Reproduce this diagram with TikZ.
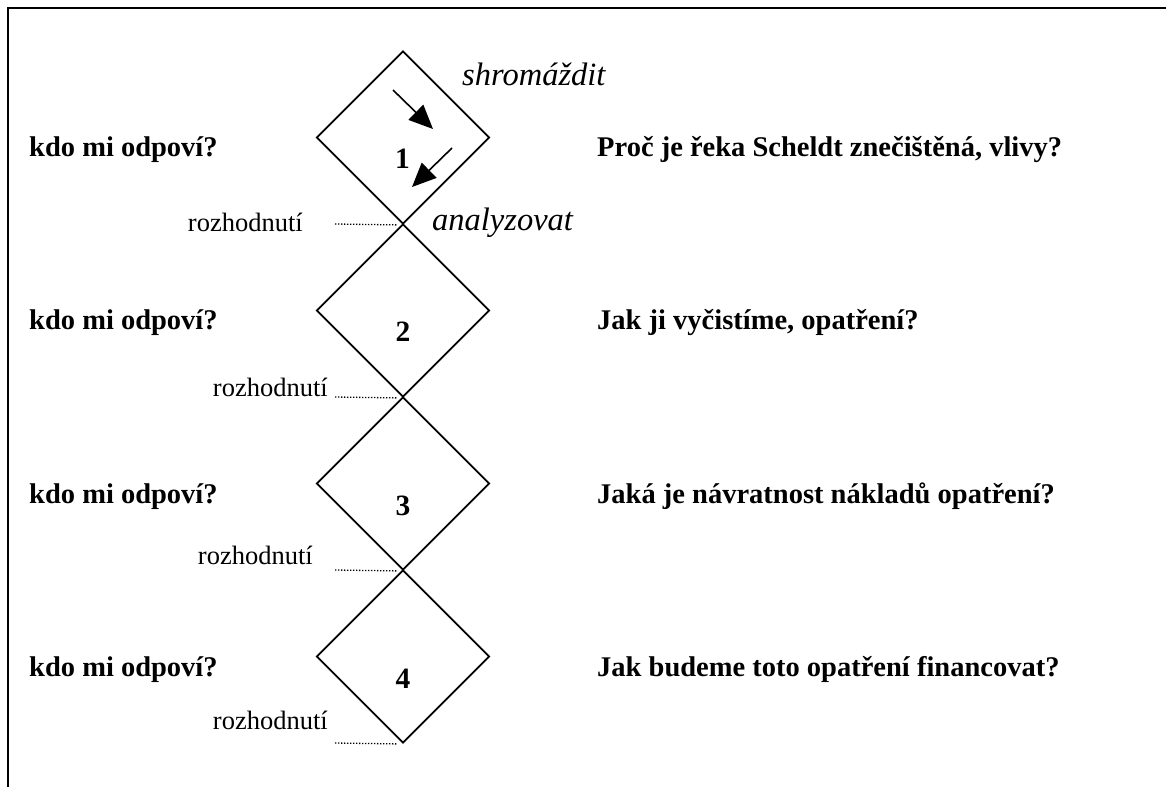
\documentclass[tikz,border=0pt]{standalone}
\usepackage{fontspec}
\setmainfont{Liberation Serif}
\usetikzlibrary{shapes.geometric,arrows.meta}
\begin{document}
\begin{tikzpicture}[x=1pt,y=-1pt,
  dia/.style={draw,shape=diamond,aspect=1,minimum width=173pt,minimum height=173pt,inner sep=0pt,line width=1.8pt},
  boldtxt/.style={inner sep=0pt,anchor=base west,font=\fontsize{28.5}{30}\selectfont\bfseries},
  numtxt/.style={inner sep=0pt,anchor=base,font=\fontsize{29.5}{30}\selectfont\bfseries},
  rozh/.style={inner sep=0pt,anchor=base east,font=\fontsize{26.5}{28}\selectfont},
  ital/.style={inner sep=0pt,anchor=base west,font=\fontsize{32.5}{34}\selectfont\itshape},
  dotline/.style={line width=1.3pt,dash pattern=on 1.3pt off 1.7pt},
  bigarrow/.style={line width=1.6pt,-{Triangle[length=24pt,width=21pt]}}]
\useasboundingbox (0,0) rectangle (1166,787);
% frame
\coordinate (ftl) at (8,8);
\coordinate (ftr) at (1166,8);
\coordinate (fbl) at (8,787);
\draw[line width=2pt] (fbl) -- (ftl) -- (ftr);
% diamonds
\node[dia] (d1) at (403,137.5) {};
\node[dia] (d2) at (403,310.5) {};
\node[dia] (d3) at (403,483.5) {};
\node[dia] (d4) at (403,656.5) {};
% numbers
\node[numtxt] (n1) at (402.5,168) {1};
\node[numtxt] (n2) at (403,341.5) {2};
\node[numtxt] (n3) at (403,515) {3};
\node[numtxt] (n4) at (403,688.5) {4};
% arrows in diamond 1
\coordinate (a1s) at (393,90);
\coordinate (a1e) at (433,129);
\coordinate (a2s) at (452,148);
\coordinate (a2e) at (412,187);
\draw[bigarrow] (a1s) -- (a1e);
\draw[bigarrow] (a2s) -- (a2e);
% italic labels
\node[ital] (sh) at (462,85) {shromáždit};
\node[ital] (an) at (432,230) {analyzovat};
% left questions
\node[boldtxt] (k1) at (29,156) {kdo mi odpoví?};
\node[boldtxt] (k2) at (29,329.5) {kdo mi odpoví?};
\node[boldtxt] (k3) at (29,503) {kdo mi odpoví?};
\node[boldtxt] (k4) at (29,676.5) {kdo mi odpoví?};
% right questions
\node[boldtxt] (q1) at (597,156) {Proč je řeka Scheldt znečištěná, vlivy?};
\node[boldtxt] (q2) at (597,329.5) {Jak ji vyčistíme, opatření?};
\node[boldtxt] (q3) at (597,503) {Jaká je návratnost nákladů opatření?};
\node[boldtxt] (q4) at (597,676.5) {Jak budeme toto opatření financovat?};
% rozhodnuti labels
\node[rozh] (r1) at (303,231) {rozhodnutí};
\node[rozh] (r2) at (328,396) {rozhodnutí};
\node[rozh] (r3) at (313,564) {rozhodnutí};
\node[rozh] (r4) at (328,729) {rozhodnutí};
% dotted lines
\coordinate (l1) at (335,224);
\coordinate (l2) at (335,397);
\coordinate (l3) at (335,570);
\coordinate (l4) at (335,743);
\draw[dotline] (l1) -- ([xshift=-6pt]d1.south);
\draw[dotline] (l2) -- ([xshift=-6pt]d2.south);
\draw[dotline] (l3) -- ([xshift=-6pt]d3.south);
\draw[dotline] (l4) -- ([xshift=-6pt]d4.south);
\end{tikzpicture}
\end{document}
